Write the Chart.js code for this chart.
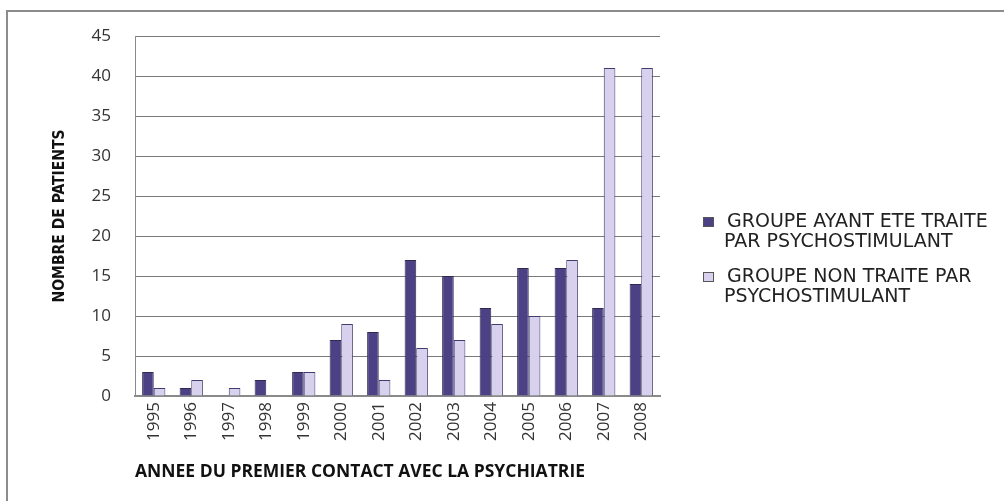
<!DOCTYPE html>
<html>
<head>
<meta charset="utf-8">
<script src="https://cdn.jsdelivr.net/npm/chart.js@4"></script>
<style>
    html, body { margin: 0; padding: 0; background: #fff; }
    #wrap { position: relative; width: 1004px; height: 501px; }
</style>
</head>
<body>
<div id="wrap"><canvas id="barChart" width="1004" height="501"></canvas></div>
<script>
const years = ['1995', '1996', '1997', '1998', '1999', '2000', '2001', '2002', '2003', '2004', '2005', '2006', '2007', '2008'];
const treated = [3, 1, 0, 2, 3, 7, 8, 17, 15, 11, 16, 16, 11, 14];
const notTreated = [1, 2, 1, 0, 3, 9, 2, 6, 7, 9, 10, 17, 41, 41];
const treatedLabel = ['GROUPE AYANT ETE TRAITE', 'PAR PSYCHOSTIMULANT'];
const notTreatedLabel = ['GROUPE NON TRAITE PAR', 'PSYCHOSTIMULANT'];
const yTitle = 'NOMBRE DE PATIENTS';
const xTitle = 'ANNEE DU PREMIER CONTACT AVEC LA PSYCHIATRIE';

const bodyFont = "'Open Sans', 'Liberation Sans', sans-serif";
const legendFont = "'DejaVu Sans', 'Open Sans', sans-serif";
const narrowFont = "'Liberation Sans Narrow', 'DejaVu Sans Condensed', sans-serif";

// top/left frame lines + legend on the right
const framePlugin = {
    id: 'frame',
    beforeDraw(chart) {
        const ctx = chart.ctx;
        ctx.save();
        ctx.strokeStyle = '#8c8c8c';
        ctx.lineWidth = 2;
        ctx.beginPath();
        ctx.moveTo(7, 501);
        ctx.lineTo(7, 11);
        ctx.lineTo(1004, 11);
        ctx.stroke();
        ctx.restore();
    },
    afterDraw(chart) {
        const ctx = chart.ctx;
        ctx.save();
        ctx.font = "19px " + legendFont;
        ctx.textBaseline = 'middle';
        let y = 222;
        chart.data.datasets.forEach(ds => {
            ctx.fillStyle = ds.backgroundColor;
            ctx.strokeStyle = '#555';
            ctx.lineWidth = 1;
            ctx.fillRect(703, y - 5, 11, 10);
            ctx.strokeRect(703.5, y - 4.5, 10, 9);
            ctx.fillStyle = '#222';
            ds.label.forEach((line, i) => {
                ctx.fillText(line, i === 0 ? 727 : 724, y + i * 20);
            });
            y += 55;
        });
        ctx.restore();
    }
};

new Chart(document.getElementById('barChart'), {
    type: 'bar',
    data: {
        labels: years,
        datasets: [
            {
                label: treatedLabel,
                data: treated,
                backgroundColor: '#4c4184',
                borderColor: '#2f2a52',
                borderWidth: 1
            },
            {
                label: notTreatedLabel,
                data: notTreated,
                backgroundColor: '#d8d1ee',
                borderColor: '#433a72',
                borderWidth: 1
            }
        ]
    },
    options: {
        responsive: false,
        animation: false,
        datasets: { bar: { categoryPercentage: 0.62, barPercentage: 1 } },
        layout: { padding: { left: 0, top: 36, right: 344, bottom: 0 } },
        plugins: { legend: { display: false }, tooltip: { enabled: false } },
        scales: {
            x: {
                afterFit: s => { s.height = 105; },
                grid: { display: false, drawTicks: false },
                border: { color: '#8a8a8a', width: 2 },
                ticks: {
                    minRotation: 90, maxRotation: 90, padding: 6,
                    color: '#333', font: { family: bodyFont, size: 17 }
                },
                title: {
                    display: true, text: xTitle, align: 'start',
                    color: '#111', padding: { top: 0, bottom: 18 },
                    font: { family: "'Open Sans', sans-serif", size: 17.5, weight: 'bold' }
                }
            },
            y: {
                min: 0, max: 45,
                afterFit: s => { s.width = 135; },
                grid: { color: '#7a7a7a', lineWidth: 1, drawTicks: false },
                border: { color: '#8a8a8a', width: 1 },
                ticks: {
                    stepSize: 5, padding: 24,
                    color: '#333', font: { family: bodyFont, size: 17 }
                },
                title: {
                    display: true, text: yTitle,
                    color: '#111', padding: { top: 51, bottom: 0 },
                    font: { family: narrowFont, size: 15.5, weight: 'bold' }
                }
            }
        }
    },
    plugins: [framePlugin]
});
</script>
</body>
</html>
